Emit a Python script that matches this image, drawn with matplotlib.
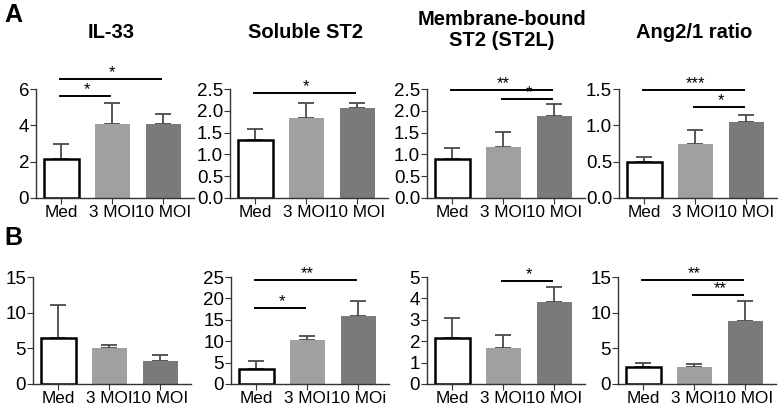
import numpy as np
import matplotlib
matplotlib.use("Agg")
import matplotlib.pyplot as plt

plt.rcParams["font.family"] = ["Liberation Sans", "DejaVu Sans"]

groups = ["Med", "3 MOI", "10 MOI"]
groups_b2 = ["Med", "3 MOI", "10 MOi"]

titles = ["IL-33", "Soluble ST2", "Membrane-bound\nST2 (ST2L)", "Ang2/1 ratio"]

# row A: means and upper error (mean + SEM)
a_mean = [[2.15, 4.05, 4.05], [1.33, 1.83, 2.07], [0.90, 1.18, 1.87], [0.49, 0.74, 1.04]]
a_top = [[2.95, 5.22, 4.60], [1.58, 2.18, 2.19], [1.15, 1.52, 2.16], [0.56, 0.94, 1.14]]
a_ymax = [6, 2.5, 2.5, 1.5]
a_ticks = [[0, 2, 4, 6], [0, 0.5, 1.0, 1.5, 2.0, 2.5], [0, 0.5, 1.0, 1.5, 2.0, 2.5], [0, 0.5, 1.0, 1.5]]
a_fmt = ["{:.0f}", "{:.1f}", "{:.1f}", "{:.1f}"]
# significance: (from, to, y, label)
a_sig = [
    [(0, 1, 5.6, "*"), (0, 2, 6.55, "*")],
    [(0, 2, 2.4, "*")],
    [(0, 2, 2.48, "**"), (1, 2, 2.28, "*")],
    [(0, 2, 1.48, "***"), (1, 2, 1.25, "*")],
]

# row B
b_mean = [[6.4, 5.0, 3.2], [3.5, 10.3, 15.8], [2.15, 1.70, 3.82], [2.4, 2.45, 8.9]]
b_top = [[11.1, 5.5, 4.1], [5.4, 11.3, 19.5], [3.1, 2.3, 4.52], [3.0, 2.8, 11.6]]
b_ymax = [15, 25, 5, 15]
b_ticks = [[0, 5, 10, 15], [0, 5, 10, 15, 20, 25], [0, 1, 2, 3, 4, 5], [0, 5, 10, 15]]
b_sig = [
    [],
    [(0, 1, 17.8, "*"), (0, 2, 24.2, "**")],
    [(1, 2, 4.8, "*")],
    [(0, 2, 14.6, "**"), (1, 2, 12.5, "**")],
]

fill = ["white", "#a0a0a3", "#7a7a7a"]
W, H = 778, 407


def draw(ax, mean, top, ymax, ticks, fmt, sig, labels):
    x = np.arange(3)
    err = np.array(top) - np.array(mean)
    ax.bar(x, mean, width=0.69, color=fill, edgecolor=["black", "none", "none"],
           linewidth=1.8, zorder=2)
    ax.errorbar(x, mean, yerr=[np.zeros(3), err], fmt="none", ecolor="#4a4a4a",
                elinewidth=1.3, capsize=6, capthick=1.3, zorder=1)
    ax.set_xlim(-0.5, 2.6)
    ax.set_ylim(0, ymax)
    ax.set_yticks(ticks)
    ax.set_yticklabels([fmt.format(t) for t in ticks])
    ax.set_xticks(x)
    ax.set_xticklabels(labels)
    for s in ["top", "right"]:
        ax.spines[s].set_visible(False)
    for s in ["left", "bottom"]:
        ax.spines[s].set_color("#333333")
        ax.spines[s].set_linewidth(1.0)
    ax.tick_params(axis="y", labelsize=13.5, length=4, pad=1, color="#333333")
    ax.tick_params(axis="x", labelsize=12.3, length=4, pad=1, color="#333333")
    for i, j, y, lab in sig:
        ax.plot([i - 0.02, j - 0.05], [y, y], color="black", lw=1.4, clip_on=False)
        ax.text((i + j) / 2, y - 0.01 * ymax, lab, ha="center", va="bottom", fontsize=12,
                clip_on=False)


fig = plt.figure(figsize=(W / 100, H / 100), dpi=100)

a_left = [36, 230, 427, 619]
b_left = [33, 231, 427, 618]
axw = 158

for k in range(4):
    ax = fig.add_axes([a_left[k] / W, (H - 198) / H, axw / W, 109 / H])
    draw(ax, a_mean[k], a_top[k], a_ymax[k], a_ticks[k], a_fmt[k], a_sig[k], groups)
    ty = 33 if k != 2 else 30
    fig.text((a_left[k] + 75) / W, 1 - ty / H, titles[k], ha="center", va="center",
             fontsize=14.5, fontweight="bold", linespacing=1.15)

for k in range(4):
    ax = fig.add_axes([b_left[k] / W, (H - 384) / H, axw / W, 107 / H])
    labels = groups_b2 if k == 1 else groups
    draw(ax, b_mean[k], b_top[k], b_ymax[k], b_ticks[k], "{:.0f}", b_sig[k], labels)

fig.text(4 / W, 1 - 15 / H, "A", fontsize=18, fontweight="bold", va="center", ha="left")
fig.text(4 / W, 1 - 238 / H, "B", fontsize=18, fontweight="bold", va="center", ha="left")

fig.savefig("out.png", dpi=100)
